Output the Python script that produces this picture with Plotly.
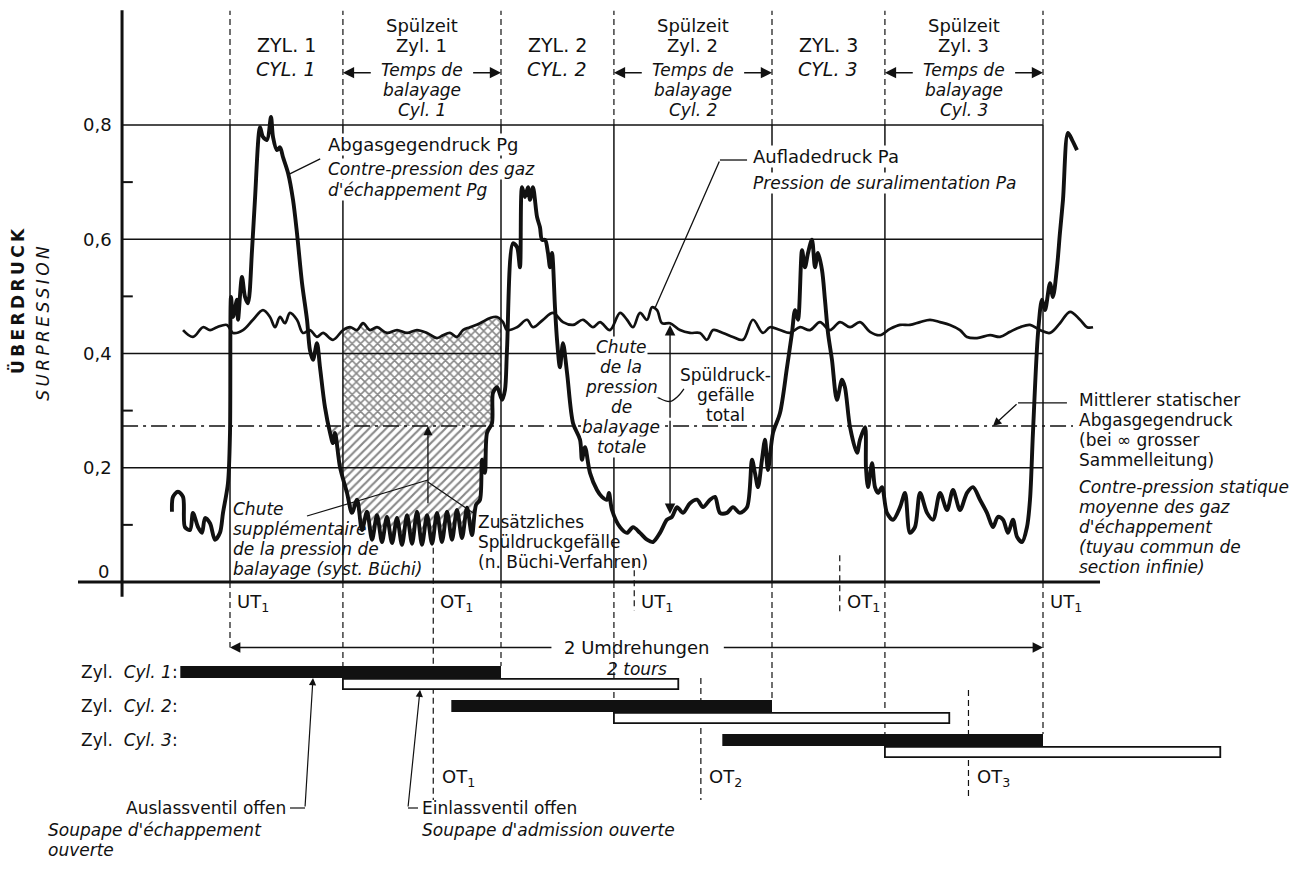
import numpy as np
import plotly.graph_objects as go

FONT = "DejaVu Sans"
INK = "#111111"

# ---------------- data (crank angle in degrees after UT1, pressure in bar overpressure) -------------
PG_POINTS = [
    (-51.4, 0.123), (-50.5, 0.149), (-46.1, 0.158), (-41.6, 0.149), (-39.9, 0.096), (-35.4, 0.091),
    (-32.8, 0.121), (-28.3, 0.096), (-24.8, 0.086), (-22.1, 0.112), (-17.7, 0.103), (-13.3, 0.074),
    (-8.9, 0.086), (-6.2, 0.121), (-1.8, 0.173), (0.0, 0.261), (0.9, 0.499), (2.7, 0.464), (6.2, 0.494),
    (7.1, 0.459), (10.6, 0.534), (13.3, 0.499), (15.9, 0.488), (19.5, 0.581), (22.1, 0.669), (26.6, 0.796),
    (29.2, 0.779), (32.8, 0.774), (36.3, 0.814), (38.1, 0.779), (41.6, 0.756), (44.3, 0.761), (46.9, 0.744),
    (51.4, 0.716), (55.8, 0.669), (59.3, 0.611), (63.8, 0.523), (68.2, 0.459), (70.8, 0.406), (73.5, 0.389),
    (77.0, 0.418), (79.7, 0.376), (84.1, 0.306), (88.6, 0.261), (91.2, 0.243), (93.0, 0.261), (97.4, 0.201),
    (103.6, 0.156), (108.0, 0.121), (112.5, 0.144), (116.9, 0.091), (121.3, 0.123), (125.8, 0.074),
    (130.2, 0.117), (134.6, 0.070), (139.0, 0.114), (143.5, 0.068), (147.9, 0.112), (152.3, 0.065),
    (156.8, 0.117), (161.2, 0.067), (165.6, 0.123), (170.0, 0.065), (174.5, 0.117), (178.9, 0.067),
    (183.3, 0.121), (187.7, 0.070), (192.2, 0.123), (196.6, 0.074), (201.0, 0.126), (205.5, 0.077),
    (209.9, 0.130), (214.3, 0.082), (217.9, 0.135), (221.4, 0.144), (223.2, 0.214), (225.8, 0.191),
    (227.6, 0.261), (232.0, 0.278), (232.9, 0.331), (236.5, 0.341), (240.9, 0.319), (243.5, 0.336),
    (245.3, 0.406), (250.6, 0.593), (254.2, 0.586), (256.8, 0.551), (258.6, 0.691), (261.2, 0.674),
    (263.9, 0.691), (265.7, 0.669), (268.3, 0.691), (271.9, 0.639), (274.5, 0.621), (276.3, 0.599),
    (279.0, 0.599), (281.6, 0.576), (283.4, 0.551), (285.2, 0.576), (287.8, 0.481), (289.6, 0.424),
    (292.2, 0.376), (294.9, 0.418), (298.5, 0.366), (303.8, 0.278), (310.0, 0.249), (311.7, 0.214),
    (314.4, 0.236), (318.8, 0.191), (325.0, 0.161), (329.4, 0.149), (333.9, 0.144), (335.6, 0.156),
    (338.3, 0.126), (345.4, 0.096), (351.6, 0.086), (356.9, 0.096), (363.1, 0.086), (369.3, 0.074),
    (374.6, 0.070), (380.8, 0.086), (387.0, 0.109), (391.4, 0.114), (395.9, 0.131), (401.2, 0.121),
    (407.4, 0.138), (413.6, 0.144), (418.9, 0.131), (425.1, 0.144), (429.5, 0.149), (433.9, 0.121),
    (440.1, 0.121), (445.4, 0.131), (451.6, 0.121), (457.9, 0.131), (462.3, 0.214), (464.9, 0.191),
    (467.6, 0.166), (471.1, 0.214), (473.8, 0.249), (476.4, 0.196), (480.9, 0.261), (487.1, 0.296),
    (493.3, 0.376), (497.7, 0.436), (500.4, 0.476), (503.0, 0.459), (506.6, 0.581), (509.2, 0.551),
    (511.9, 0.576), (515.4, 0.599), (518.1, 0.551), (520.7, 0.576), (524.3, 0.546), (526.9, 0.494),
    (529.6, 0.436), (533.1, 0.389), (537.5, 0.319), (542.0, 0.354), (544.6, 0.341), (549.1, 0.271),
    (555.3, 0.226), (557.9, 0.249), (562.4, 0.271), (563.2, 0.201), (565.0, 0.166), (568.6, 0.208),
    (571.2, 0.166), (573.9, 0.156), (577.4, 0.166), (581.8, 0.121), (587.2, 0.109), (593.4, 0.131),
    (597.8, 0.156), (602.2, 0.086), (606.6, 0.096), (611.1, 0.156), (617.3, 0.121), (622.6, 0.109),
    (628.8, 0.156), (635.0, 0.126), (640.3, 0.161), (646.5, 0.126), (652.7, 0.156), (658.0, 0.166),
    (664.2, 0.144), (670.4, 0.121), (675.7, 0.096), (680.1, 0.114), (684.6, 0.109), (689.0, 0.086),
    (693.4, 0.109), (697.0, 0.079), (701.4, 0.070), (705.8, 0.096), (708.5, 0.144), (711.1, 0.261),
    (715.6, 0.436), (719.1, 0.494), (721.8, 0.476), (726.2, 0.523), (728.8, 0.499), (732.4, 0.551),
    (735.0, 0.611), (737.7, 0.669), (742.1, 0.786), (745.7, 0.774), (750.1, 0.756),
]
PA_POINTS = [
    (-41.6, 0.441), (-32.8, 0.429), (-23.9, 0.446), (-17.7, 0.441), (-11.5, 0.446), (-2.7, 0.450),
    (2.7, 0.436), (11.5, 0.441), (20.4, 0.459), (29.2, 0.476), (35.4, 0.464), (39.9, 0.446), (44.3, 0.464),
    (48.7, 0.453), (53.1, 0.471), (59.3, 0.459), (64.6, 0.436), (70.8, 0.441), (77.0, 0.429), (82.4, 0.436),
    (91.2, 0.424), (100.1, 0.441), (106.3, 0.446), (112.5, 0.441), (117.8, 0.453), (124.0, 0.441),
    (130.2, 0.446), (139.0, 0.436), (147.9, 0.441), (156.8, 0.436), (165.6, 0.441), (174.5, 0.436),
    (183.3, 0.427), (188.6, 0.432), (194.8, 0.436), (201.0, 0.429), (206.3, 0.441), (212.5, 0.446),
    (221.4, 0.453), (230.3, 0.462), (236.5, 0.464), (241.8, 0.455), (245.3, 0.441), (254.2, 0.446),
    (263.0, 0.459), (268.3, 0.446), (277.2, 0.459), (286.0, 0.471), (294.9, 0.455), (303.8, 0.450),
    (312.6, 0.459), (321.5, 0.446), (327.7, 0.455), (336.5, 0.441), (345.4, 0.471), (351.6, 0.459),
    (356.9, 0.446), (363.1, 0.471), (369.3, 0.459), (373.7, 0.481), (378.2, 0.476), (382.6, 0.453),
    (389.7, 0.453), (398.5, 0.441), (407.4, 0.436), (416.2, 0.436), (422.4, 0.424), (427.8, 0.441),
    (436.6, 0.436), (445.4, 0.429), (454.3, 0.424), (463.1, 0.459), (472.0, 0.436), (478.2, 0.446),
    (487.1, 0.441), (495.9, 0.436), (504.8, 0.446), (513.6, 0.441), (522.5, 0.455), (531.3, 0.441),
    (540.2, 0.455), (549.1, 0.446), (557.9, 0.455), (566.8, 0.438), (575.6, 0.432), (584.5, 0.443),
    (593.4, 0.450), (602.2, 0.450), (611.1, 0.455), (619.9, 0.459), (628.8, 0.455), (637.6, 0.450),
    (646.5, 0.441), (652.7, 0.429), (661.5, 0.427), (673.1, 0.432), (681.9, 0.429), (690.8, 0.438),
    (699.7, 0.446), (708.5, 0.450), (717.3, 0.441), (726.2, 0.436), (735.0, 0.453), (743.9, 0.473),
    (752.8, 0.459), (759.0, 0.446), (764.3, 0.446),
]
PG_DEG, PG_VAL = map(list, zip(*PG_POINTS))
PA_DEG, PA_VAL = map(list, zip(*PA_POINTS))

MEAN_STATIC = 0.273                      # mean static exhaust back pressure
SECTION_BOUNDS = [0, 100, 240, 340, 480, 580, 720]
Y_TICKS = [0.2, 0.4, 0.6, 0.8]
Y_TICK_TEXT = ["0,2", "0,4", "0,6", "0,8"]
MINOR_TICKS = [0.1, 0.3, 0.5, 0.7]

CYL_ROWS = [1, 2, 3]
EXH_OPEN = [-44, 196, 436]
EXH_CLOSE = [240, 480, 720]
INL_OPEN = [100, 340, 580]
INL_CLOSE = [397, 637, 877]

UT_UPPER = [0, 358, 720]
OT_UPPER = [180, 540]
OT_LOWER = [180, 417, 654]

# ---------------- axes frames ----------------
X_RANGE = [-203.69, 960.0]
Y_RANGE = [-0.5357, 1.0188]
R_RANGE = [7.353, -18.765]   # valve-timing rows (downwards)

X_LEFT = -95.6      # y-axis position
X_AXIS_END = 770.5
X_AXIS_START = -134.6
EXH_W, INL_W, INL_OFF = 0.353, 0.30, 0.353
ARROW_R = 0.28
FS = 17
FS_LOW = 17


def v_to_r(v):
    f = (v - Y_RANGE[0]) / (Y_RANGE[1] - Y_RANGE[0])
    return R_RANGE[0] + f * (R_RANGE[1] - R_RANGE[0])


R_AXIS = v_to_r(0.0)

fig = go.Figure()
shapes = []
ann = []


def line(x0, y0, x1, y1, yref="y", width=1.5, dash="solid", layer="below"):
    shapes.append(dict(type="line", xref="x", yref=yref, x0=x0, y0=y0, x1=x1, y1=y1,
                       line=dict(color=INK, width=width, dash=dash), layer=layer))


def label(x, y, s, size=FS, xanchor="center", yref="y", bg=None, italic=False, angle=0, bold=False):
    t = s
    if italic:
        t = "<i>%s</i>" % t
    if bold:
        t = "<b>%s</b>" % t
    d = dict(x=x, y=y, xref="x", yref=yref, text=t, showarrow=False, xanchor=xanchor,
             yanchor="middle", font=dict(family=FONT, size=size, color=INK), textangle=angle,
             borderpad=0)
    if bg:
        d.update(bgcolor=bg)
    ann.append(d)


def arrow(x, y, ax, ay, yref="y", head=2, size=1.3, width=1.4):
    ann.append(dict(x=x, y=y, ax=ax, ay=ay, xref="x", yref=yref, axref="x", ayref=yref,
                    showarrow=True, arrowhead=head, arrowsize=size, arrowwidth=width,
                    arrowcolor=INK, text="", standoff=0, startstandoff=0))


def stack(x, vs, texts, **kw):
    for v, t in zip(vs, texts):
        label(x, v, t, **kw)


DASH = "6px,4px"

# axes
line(X_LEFT, -0.026, X_LEFT, 1.001, width=3)
line(X_AXIS_START, 0, X_AXIS_END, 0, width=3)
for v in Y_TICKS:
    line(X_LEFT, v, SECTION_BOUNDS[-1], v, width=1.6)
for v in MINOR_TICKS:
    line(X_LEFT, v, X_LEFT + 9.5, v, width=2)
for v, t in zip(Y_TICKS, Y_TICK_TEXT):
    label(X_LEFT - 8, v, t, size=18, xanchor="right")
label(X_LEFT - 10.7, 0.0175, "0", size=18, xanchor="right")

# section verticals
ends = {SECTION_BOUNDS[0]: ARROW_R}
for i, r in enumerate(CYL_ROWS):
    ends[EXH_CLOSE[i]] = r - EXH_W / 2
    ends[INL_OPEN[i]] = r + INL_OFF - INL_W / 2
for b in SECTION_BOUNDS:
    line(b, 0, b, 0.8, width=1.5)
    line(b, 0.8, b, 1.0, width=1.2, dash=DASH)
    line(b, R_AXIS, b, ends[b], yref="y2", width=1.2, dash=DASH)
# short TDC/BDC markers
line(UT_UPPER[1], v_to_r(0.038), UT_UPPER[1], v_to_r(-0.05), yref="y2", width=1.2, dash=DASH)
line(OT_UPPER[1], v_to_r(0.047), OT_UPPER[1], v_to_r(-0.052), yref="y2", width=1.2, dash=DASH)
line(OT_LOWER[0], v_to_r(0.06), OT_LOWER[0], 4.765, yref="y2", width=1.2, dash=DASH)
line(OT_LOWER[1], 1.176, OT_LOWER[1], 4.765, yref="y2", width=1.2, dash=DASH)
line(OT_LOWER[2], 1.53, OT_LOWER[2], 4.765, yref="y2", width=1.2, dash=DASH)

# ---------------- hatched areas ----------------
dg = np.arange(SECTION_BOUNDS[1], SECTION_BOUNDS[2] + 0.01, 0.5)
pa_i = np.interp(dg, PA_DEG, PA_VAL)
pg_i = np.interp(dg, PG_DEG, PG_VAL)
low = np.minimum(np.maximum(MEAN_STATIC, pg_i), pa_i)
fig.add_trace(go.Scatter(x=np.r_[dg, dg[::-1]], y=np.r_[pa_i, low[::-1]], fill="toself", mode="lines",
                         line=dict(width=0), fillcolor="rgba(0,0,0,0)",
                         fillpattern=dict(shape="x", size=6, solidity=0.45, fgcolor=INK,
                                          bgcolor="rgba(0,0,0,0)"), hoverinfo="skip"))
dh = np.arange(85, 235.01, 0.5)
pg_h = np.interp(dh, PG_DEG, PG_VAL)
low_h = np.minimum(pg_h, MEAN_STATIC)
fig.add_trace(go.Scatter(x=np.r_[dh, dh[::-1]], y=np.r_[np.full_like(dh, MEAN_STATIC), low_h[::-1]],
                         fill="toself", mode="lines", line=dict(width=0), fillcolor="rgba(0,0,0,0)",
                         fillpattern=dict(shape="/", size=6, solidity=0.36, fgcolor=INK,
                                          bgcolor="rgba(0,0,0,0)"), hoverinfo="skip"))

# ---------------- curves ----------------
fig.add_trace(go.Scatter(x=[X_LEFT, 746.6], y=[MEAN_STATIC, MEAN_STATIC], mode="lines",
                         line=dict(color=INK, width=1.6, dash="16px,5px,3px,5px")))
fig.add_trace(go.Scatter(x=PA_DEG, y=PA_VAL, mode="lines",
                         line=dict(color=INK, width=2.7, shape="spline", smoothing=1.0)))
fig.add_trace(go.Scatter(x=PG_DEG, y=PG_VAL, mode="lines",
                         line=dict(color=INK, width=3.9, shape="spline", smoothing=0.85)))

# ---------------- valve timing bars ----------------
fig.add_trace(go.Bar(orientation="h", y=[r + INL_OFF for r in CYL_ROWS], base=INL_OPEN,
                     x=[c - o for o, c in zip(INL_OPEN, INL_CLOSE)], width=INL_W,
                     marker=dict(color="white", line=dict(color=INK, width=1.8)), yaxis="y2"))
fig.add_trace(go.Bar(orientation="h", y=CYL_ROWS, base=EXH_OPEN,
                     x=[c - o for o, c in zip(EXH_OPEN, EXH_CLOSE)], width=EXH_W,
                     marker=dict(color=INK, line=dict(width=0)), yaxis="y2"))

# ---------------- header ----------------
centers = [(SECTION_BOUNDS[i] + SECTION_BOUNDS[i + 1]) / 2 for i in range(6)]
for k in range(3):
    c0, c1 = centers[2 * k], centers[2 * k + 1]
    label(c0, 0.940, "ZYL. %d" % (k + 1), size=19)
    label(c0, 0.898, "CYL. %d" % (k + 1), italic=True, size=19)
    label(c1, 0.9733, "Spülzeit", size=18)
    label(c1, 0.9383, "Zyl. %d" % (k + 1), size=18)
    label(c1, 0.8963, "Temps de", italic=True)
    label(c1, 0.8613, "balayage", italic=True)
    label(c1, 0.8263, "Cyl. %d" % (k + 1), italic=True)
    b0, b1 = SECTION_BOUNDS[2 * k + 1], SECTION_BOUNDS[2 * k + 2]
    arrow(b0, 0.8915, b0 + 26, 0.8915, size=1.6, width=1.4)
    arrow(b1, 0.8915, b1 - 26, 0.8915, size=1.6, width=1.4)

# axis title
label(-187.7, 0.492, "\u2009".join("ÜBERDRUCK"), size=17, angle=-90, bold=True)
label(-165.6, 0.452, "\u2009".join("SURPRESSION"), size=17, angle=-90, italic=True)

# curve labels
label(85.9, 0.765, "Abgasgegendruck Pg", xanchor="left", bg="white", size=18)
label(85.9, 0.723, "Contre-pression des gaz", xanchor="left", italic=True, bg="white")
label(85.9, 0.686, "d'échappement Pg", xanchor="left", italic=True, bg="white")
arrow(52.5, 0.714, 81.2, 0.742, head=0, width=1.3)

label(462.3, 0.744, "Aufladedruck Pa", xanchor="left", bg="white", size=18)
label(462.3, 0.698, "Pression de suralimentation Pa", xanchor="left", italic=True, bg="white")
line(457.9, 0.7387, 433.9, 0.7387, width=1.3, layer="above")
arrow(376.4, 0.4796, 433.9, 0.7387, head=0, width=1.3)

stack(346.3, [0.4113, 0.3763, 0.3413, 0.3063, 0.2713, 0.2363],
      ["Chute", "de la", "pression", "de", "balayage", "totale"], italic=True, bg="white")
stack(439.0, [0.3623, 0.3273, 0.2923], ["Spüldruck-", "gefälle", "total"])
arrow(389.7, 0.450, 389.7, 0.285, size=1.5, width=1.4)
arrow(389.7, 0.119, 389.7, 0.285, size=1.5, width=1.4)
fig.add_trace(go.Scatter(x=[373.7, 381.0, 389.7, 396.7, 402.0], y=[0.331, 0.321, 0.316, 0.325, 0.338],
                         mode="lines", line=dict(color=INK, width=1.3, shape="spline")))

stack(751.0, [0.3186, 0.2836, 0.2486, 0.2136],
      ["Mittlerer statischer", "Abgasgegendruck", "(bei ∞ grosser", "Sammelleitung)"], xanchor="left")
stack(751.0, [0.1663, 0.1313, 0.0963, 0.0613, 0.0263],
      ["Contre-pression statique", "moyenne des gaz", "d'échappement", "(tuyau commun de",
       "section infinie)"], xanchor="left", italic=True)
line(697.9, 0.3134, 741.2, 0.3134, width=1.3, layer="above")
arrow(675.7, MEAN_STATIC, 697.9, 0.3134, size=1.3, width=1.3)

stack(1.5, [0.1278, 0.0928, 0.0578, 0.0228],
      ["Chute", "supplémentaire", "de la pression de", "balayage (syst. Büchi)"], xanchor="left", italic=True)
stack(218.7, [0.105, 0.070, 0.035], ["Zusätzliches", "Spüldruckgefälle", "(n. Büchi-Verfahren)"],
      xanchor="left")
line(68.2, 0.1155, 175.3, 0.1785, width=1.2, layer="above")
line(215.2, 0.121, 175.3, 0.175, width=1.2, layer="above")
arrow(175.3, MEAN_STATIC, 175.3, 0.135, size=1.4, width=1.3)

# TDC / BDC labels
for u in UT_UPPER:
    label(u + 5.5, -0.0368, "UT<sub>1</sub>", xanchor="left", size=18)
for o in OT_UPPER:
    label(o + 5.5, -0.0368, "OT<sub>1</sub>", xanchor="left", size=18)
for i, o in enumerate(OT_LOWER):
    label(o + 6.5, 4.118, "OT<sub>%d</sub>" % (i + 1), xanchor="left", yref="y2", size=18)

# lower diagram
label(360, ARROW_R, "2 Umdrehungen", yref="y2", size=18)
label(360, 0.90, "2 tours", yref="y2", italic=True)
arrow(SECTION_BOUNDS[0], ARROW_R, 286.0, ARROW_R, yref="y2", size=1.6, width=1.3)
arrow(SECTION_BOUNDS[-1], ARROW_R, 436.0, ARROW_R, yref="y2", size=1.6, width=1.3)
for r in CYL_ROWS:
    label(-132.8, r, "Zyl.  <i>Cyl. %d</i>:" % r, xanchor="left", yref="y2", size=FS_LOW)

arrow(73.5, 1.18, 66.4, 5.0, yref="y2", size=1.2, width=1.2)
line(66.4, 5.0, 53.1, 5.0, yref="y2", width=1.2)
label(50.5, 5.0, "Auslassventil offen", xanchor="right", yref="y2", size=FS_LOW)
label(-162.1, 5.647, "Soupape d'échappement", xanchor="left", yref="y2", italic=True, size=FS_LOW)
label(-162.1, 6.235, "ouverte", xanchor="left", yref="y2", italic=True, size=FS_LOW)
arrow(168.3, 1.52, 157.6, 5.0, yref="y2", size=1.2, width=1.2)
line(157.6, 5.0, 166.5, 5.0, yref="y2", width=1.2)
label(169.2, 5.0, "Einlassventil offen", xanchor="left", yref="y2", size=FS_LOW)
label(169.2, 5.647, "Soupape d'admission ouverte", xanchor="left", yref="y2", italic=True, size=FS_LOW)

fig.update_layout(
    width=1314, height=888, autosize=False,
    margin=dict(l=0, r=0, t=0, b=0, pad=0),
    paper_bgcolor="white", plot_bgcolor="white",
    showlegend=False, barmode="overlay",
    xaxis=dict(range=X_RANGE, visible=False, fixedrange=True),
    yaxis=dict(range=Y_RANGE, visible=False, fixedrange=True),
    yaxis2=dict(range=R_RANGE, visible=False, overlaying="y", fixedrange=True),
    shapes=shapes, annotations=ann,
    font=dict(family=FONT, color=INK),
)

fig.write_html("out.html", config={"staticPlot": True, "displayModeBar": False},
               post_script="document.body.style.margin='0';document.body.style.overflow='hidden';")
